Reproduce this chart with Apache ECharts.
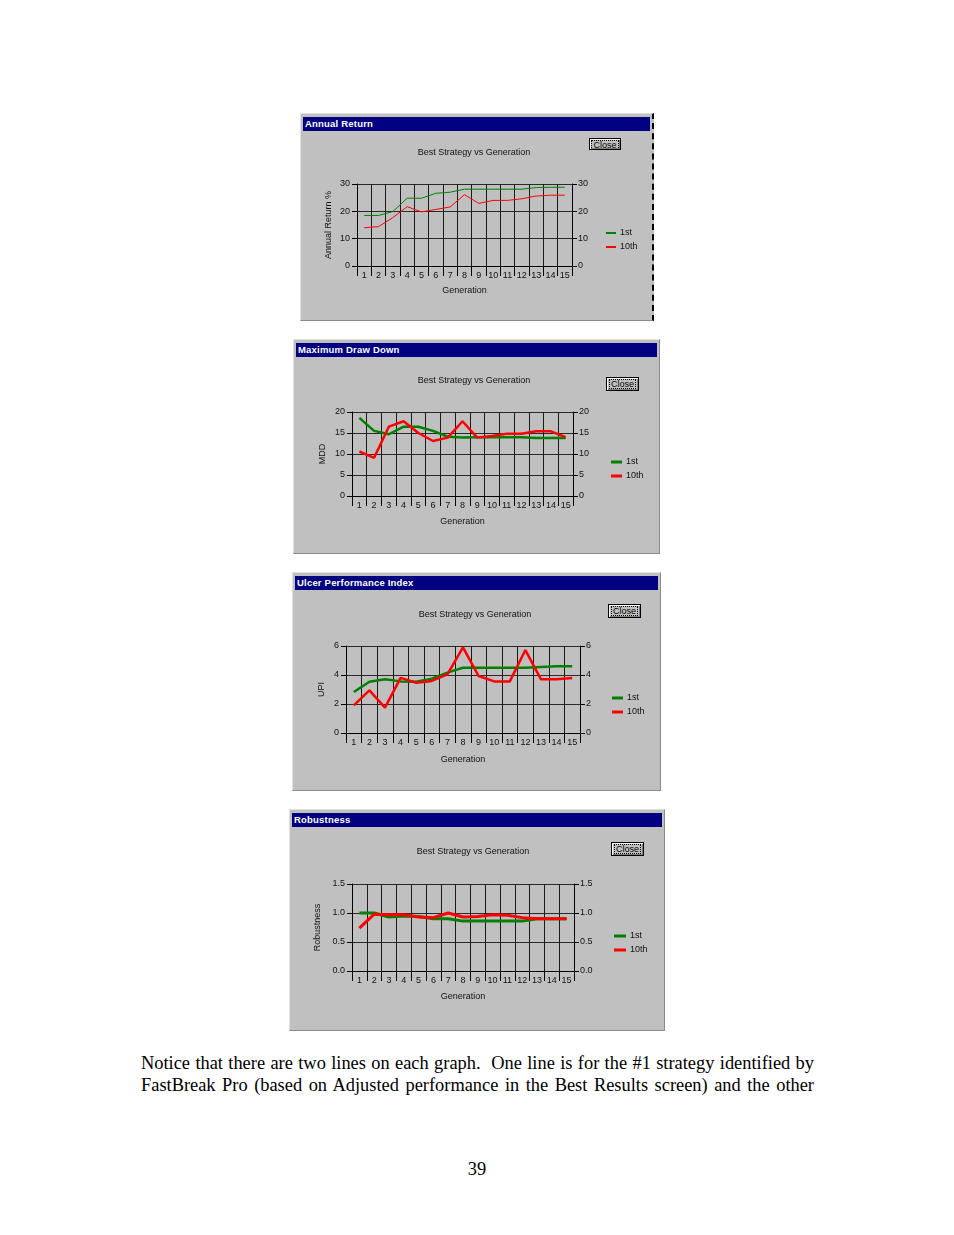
<!DOCTYPE html>
<html>
<head>
<meta charset="utf-8">
<script src="https://cdn.jsdelivr.net/npm/echarts@6/dist/echarts.min.js"></script>
<style>
  html, body { margin:0; padding:0; background:#fff; }
  body { width:954px; height:1235px; position:relative; overflow:hidden; }
  .panel { position:absolute; background:#c0c0c0; box-sizing:border-box;
           border-top:1px solid #e0e0e0; border-left:1px solid #e0e0e0;
           border-right:1px solid #8a8a8a; border-bottom:1px solid #8a8a8a; }
  .chart { position:absolute; left:0; top:0; }
  .tbar { position:absolute; left:2px; right:2px; top:3px; height:14px; background:#000080;
          color:#fff; font:bold 9.5px "Liberation Sans", Arial, sans-serif; line-height:14px;
          padding-left:2px; white-space:nowrap; letter-spacing:0.2px; }
  .close { position:absolute; box-sizing:border-box; background:#c0c0c0;
           border:1px solid #000; box-shadow: inset 1px 1px 0 #fff, inset -1px -1px 0 #808080;
           font:9px "Liberation Sans", Arial, sans-serif; color:#000; text-align:center; }
  .close span { display:inline-block; border:1px dotted #000; padding:0 1px; line-height:8px; margin-top:1px; }
  .text { position:absolute; left:141px; top:1052px; width:673px;
          font:18.4px "Liberation Serif", "Times New Roman", serif; line-height:22px;
          text-align:justify; text-align-last:justify; color:#000; }
  .pnum { position:absolute; left:0; width:954px; top:1159px; text-align:center;
          font:18.4px "Liberation Serif", "Times New Roman", serif; color:#000; }
</style>
</head>
<body>
<script>
// ---- data ----
const categories = ['1','2','3','4','5','6','7','8','9','10','11','12','13','14','15'];
const seriesNames = ['1st', '10th'];

const annualReturn1st  = [18.5, 18.5, 19.9, 24.8, 24.8, 26.6, 27.0, 28.1, 28.1, 28.1, 28.1, 28.1, 28.7, 28.8, 28.8];
const annualReturn10th = [14.0, 14.4, 17.7, 21.7, 19.8, 20.7, 21.6, 26.1, 22.9, 24.0, 24.0, 24.6, 25.6, 25.9, 25.9];

const mdd1st  = [18.6, 15.5, 14.7, 16.5, 16.5, 15.5, 14.1, 13.9, 14.0, 14.0, 14.0, 14.0, 13.8, 13.8, 13.8];
const mdd10th = [10.6, 9.1, 16.5, 17.8, 15.0, 13.1, 13.9, 17.8, 13.9, 14.3, 14.8, 14.8, 15.4, 15.4, 14.0];

const upi1st  = [2.83, 3.54, 3.70, 3.56, 3.54, 3.75, 4.16, 4.50, 4.50, 4.50, 4.50, 4.50, 4.55, 4.60, 4.60];
const upi10th = [1.90, 2.94, 1.75, 3.80, 3.47, 3.59, 4.05, 5.90, 3.93, 3.56, 3.56, 5.72, 3.70, 3.70, 3.80];

const robust1st  = [1.00, 1.00, 0.93, 0.95, 0.94, 0.90, 0.90, 0.86, 0.86, 0.86, 0.86, 0.86, 0.90, 0.90, 0.90];
const robust10th = [0.74, 0.98, 0.97, 0.97, 0.93, 0.92, 1.00, 0.93, 0.94, 0.97, 0.96, 0.92, 0.90, 0.90, 0.90];

const chartTitle = 'Best Strategy vs Generation';
const xAxisName = 'Generation';

// ---- layout (page coordinates) ----
const panels = [
  { title:'Annual Return', yName:'Annual Return %', first:annualReturn1st, tenth:annualReturn10th,
    min:0, max:30, interval:10, dec:0, lw:1, iconH:2,
    box:[300,113,354,208], grid:[356,183,571,265], tc:[473,152], close:[588,137,32,12],
    legend:[605,232], iconW:10, yGap:24, xGap:20, dashed:true },
  { title:'Maximum Draw Down', yName:'MDD', first:mdd1st, tenth:mdd10th,
    min:0, max:20, interval:5, dec:0, lw:2.5, iconH:3,
    box:[293,339,367,215], grid:[351,411,572,495], tc:[473,380], close:[605,376,33,14],
    legend:[610,461], iconW:11, yGap:25, xGap:21 },
  { title:'Ulcer Performance Index', yName:'UPI', first:upi1st, tenth:upi10th,
    min:0, max:6, interval:2, dec:0, lw:2.5, iconH:3,
    box:[292,572,369,219], grid:[345,645,579,732], tc:[474,614], close:[607,603,33,14],
    legend:[611,697], iconW:11, yGap:20, xGap:22 },
  { title:'Robustness', yName:'Robustness', first:robust1st, tenth:robust10th,
    min:0, max:1.5, interval:0.5, dec:1, lw:3, iconH:3,
    box:[289,809,376,222], grid:[351,883,573,970], tc:[472,851], close:[610,841,33,14],
    legend:[613,935], iconW:12, yGap:30, xGap:21 }
];

const FONT = '"Liberation Sans", Arial, sans-serif';
const TXT = '#111';

function makeOption(p) {
  const ox = p.box[0], oy = p.box[1];
  const fmt = v => v.toFixed(p.dec);
  const yBase = {
    type:'value', min:p.min, max:p.max, interval:p.interval,
    axisLine:{ show:true, lineStyle:{ color:'#000', width:1 } },
    axisTick:{ show:true, length:5, lineStyle:{ color:'#000' } },
    axisLabel:{ fontSize:9, color:TXT, fontFamily:FONT, formatter:fmt }
  };
  return {
    animation:false,
    textStyle:{ fontFamily:FONT },
    graphic:[{
      type:'text', x:p.tc[0]-ox, y:p.tc[1]-oy,
      style:{ text:chartTitle, fontSize:9, fontFamily:FONT, fill:TXT, align:'center', verticalAlign:'middle' }
    }],
    legend:{
      orient:'vertical', left:p.legend[0]-ox, top:p.legend[1]-oy-5, padding:0,
      itemWidth:p.iconW, itemHeight:p.iconH, itemGap:4, icon:'rect',
      textStyle:{ fontSize:9, color:TXT, fontFamily:FONT, lineHeight:10, padding:[0,0,0,-1] },
      data:seriesNames
    },
    grid:{ left:p.grid[0]-ox, top:p.grid[1]-oy, width:p.grid[2]-p.grid[0], height:p.grid[3]-p.grid[1] },
    xAxis:{
      type:'category', data:categories, boundaryGap:true,
      name:xAxisName, nameLocation:'middle', nameGap:p.xGap, nameMoveOverlap:false,
      nameTextStyle:{ fontSize:9, color:TXT, fontFamily:FONT },
      axisLine:{ show:true, lineStyle:{ color:'#000' } },
      axisTick:{ show:true, interval:0, length:10, lineStyle:{ color:'#000' } },
      axisLabel:{ interval:0, fontSize:9, color:TXT, fontFamily:FONT, margin:5 },
      splitLine:{ show:true, interval:0, lineStyle:{ color:'#1a1a1a', width:1 } }
    },
    yAxis:[
      Object.assign({}, yBase, {
        position:'left', name:p.yName, nameLocation:'middle', nameGap:p.yGap, nameMoveOverlap:false,
        nameTextStyle:{ fontSize:9, color:TXT, fontFamily:FONT },
        axisLabel:Object.assign({}, yBase.axisLabel, { margin:7 }),
        splitLine:{ show:true, lineStyle:{ color:'#2a2a2a', width:1 } }
      }),
      Object.assign({}, yBase, {
        position:'right',
        axisLabel:Object.assign({}, yBase.axisLabel, { margin:6 }),
        splitLine:{ show:false }
      })
    ],
    series:[
      { name:seriesNames[0], type:'line', data:p.first, showSymbol:false, symbol:'none',
        lineStyle:{ color:'#008000', width:p.lw }, itemStyle:{ color:'#008000' } },
      { name:seriesNames[1], type:'line', data:p.tenth, showSymbol:false, symbol:'none',
        lineStyle:{ color:'#ff0000', width:p.lw }, itemStyle:{ color:'#ff0000' } }
    ]
  };
}

panels.forEach(p => {
  const [x, y, w, h] = p.box;
  const panel = document.createElement('div');
  panel.className = 'panel';
  panel.style.cssText = `left:${x}px;top:${y}px;width:${w}px;height:${h}px;`;
  if (p.dashed) { panel.style.borderRight = '2px dashed #000'; }
  document.body.appendChild(panel);

  const c = document.createElement('div');
  c.className = 'chart';
  c.style.width = w + 'px'; c.style.height = h + 'px';
  panel.appendChild(c);

  const tb = document.createElement('div');
  tb.className = 'tbar'; tb.textContent = p.title;
  panel.appendChild(tb);

  const cl = document.createElement('div');
  cl.className = 'close';
  cl.style.cssText = `left:${p.close[0]-x}px;top:${p.close[1]-y}px;width:${p.close[2]}px;height:${p.close[3]}px;line-height:${p.close[3]-2}px;`;
  cl.innerHTML = '<span>Close</span>';
  panel.appendChild(cl);

  const chart = echarts.init(c, null, { renderer:'canvas', width:w, height:h });
  chart.setOption(makeOption(p));
});

const t = document.createElement('div');
t.className = 'text';
t.textContent = 'Notice that there are two lines on each graph.\u00a0 One line is for the #1 strategy identified by FastBreak Pro (based on Adjusted performance in the Best Results screen) and the other';
document.body.appendChild(t);

const pn = document.createElement('div');
pn.className = 'pnum'; pn.textContent = '39';
document.body.appendChild(pn);
</script>
</body>
</html>
